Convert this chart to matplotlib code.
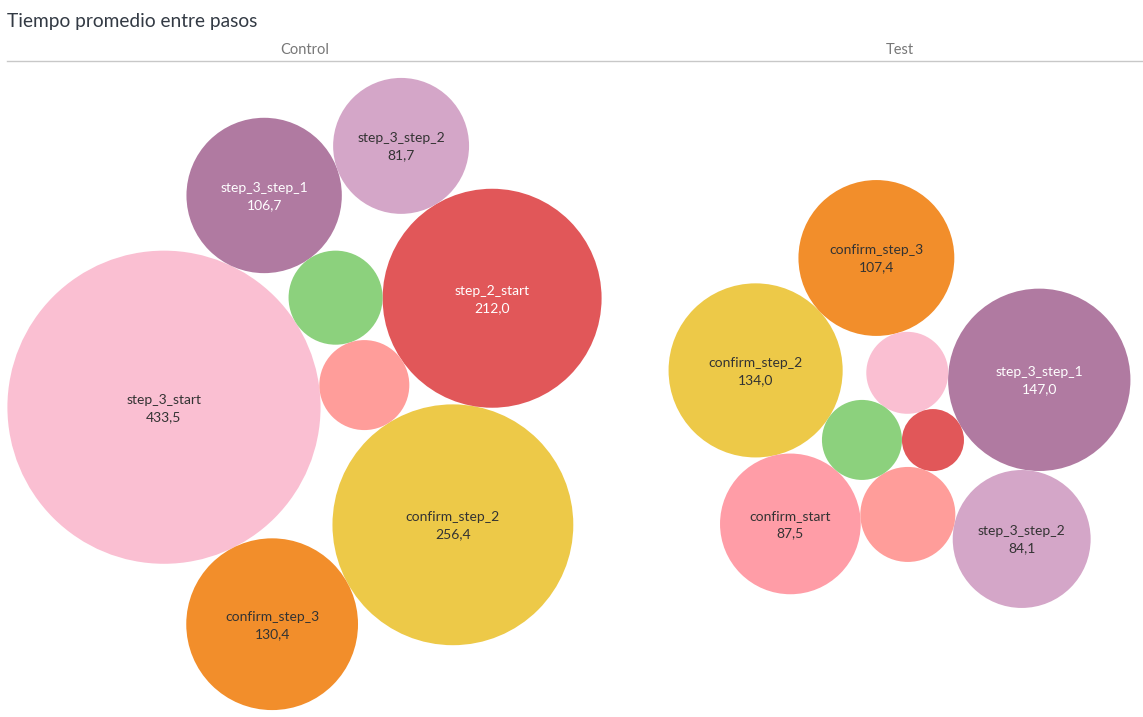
import numpy as np
import matplotlib.pyplot as plt
from matplotlib.patches import Circle

plt.rcParams['font.family'] = ['Lato', 'DejaVu Sans']

# data: average time between steps (seconds)
control_steps = ['step_3_start', 'confirm_step_2', 'step_2_start', 'confirm_step_3',
                 'step_3_step_1', 'step_3_step_2', 'step_1_start', 'step_2_step_1']
control_values = [433.5, 256.4, 212.0, 130.4, 106.7, 81.7, 39.1, 35.8]

test_steps = ['step_3_step_1', 'confirm_step_2', 'confirm_step_3', 'confirm_start',
              'step_3_step_2', 'step_2_step_1', 'step_3_start', 'step_1_start', 'step_2_start']
test_values = [147.0, 134.0, 107.4, 87.5, 84.1, 39.9, 29.7, 28.3, 17.0]

colors = {
    'step_3_start': '#FABFD2',
    'confirm_step_2': '#EDC948',
    'step_2_start': '#E15759',
    'confirm_step_3': '#F28E2B',
    'step_3_step_1': '#B07AA1',
    'step_3_step_2': '#D4A6C8',
    'step_1_start': '#8CD17D',
    'step_2_step_1': '#FF9D9A',
    'confirm_start': '#FF9DA7',
}
white_text = ['step_2_start', 'step_3_step_1']

# packing order: (circle, touches a, touches b, side) -- first two are seed + angle
control_layout = [
    ('step_2_step_1', None, None, None),
    ('step_1_start', 'step_2_step_1', -108.2, None),
    ('step_3_start', 'step_2_step_1', 'step_1_start', -1),
    ('step_2_start', 'step_1_start', 'step_2_step_1', -1),
    ('confirm_step_2', 'step_2_step_1', 'step_2_start', 1),
    ('confirm_step_3', 'step_3_start', 'confirm_step_2', 1),
    ('step_3_step_1', 'step_3_start', 'step_1_start', -1),
    ('step_3_step_2', 'step_3_step_1', 'step_2_start', -1),
]
test_layout = [
    ('step_2_start', None, None, None),
    ('step_3_start', 'step_2_start', -110.9, None),
    ('step_1_start', 'step_2_start', 'step_3_start', -1),
    ('step_2_step_1', 'step_1_start', 'step_2_start', 1),
    ('step_3_step_1', 'step_3_start', 'step_2_start', -1),
    ('confirm_start', 'step_1_start', 'step_2_step_1', 1),
    ('confirm_step_2', 'step_1_start', 'confirm_start', 1),
    ('confirm_step_3', 'step_3_start', 'confirm_step_2', 1),
    ('step_3_step_2', 'step_3_step_1', 'step_2_step_1', -1),
]

SCALE = 7.52  # pixels per sqrt(second), bubble area ~ value


def pack(steps, values, layout):
    radius = {s: SCALE * np.sqrt(v) for s, v in zip(steps, values)}
    pos = {}
    for name, a, b, side in layout:
        rc = radius[name]
        if a is None:
            pos[name] = np.array([0.0, 0.0])
        elif side is None:
            ang = np.radians(b)
            pos[name] = pos[a] + (radius[a] + rc) * np.array([np.cos(ang), np.sin(ang)])
        else:
            pa, pb = pos[a], pos[b]
            d = np.linalg.norm(pb - pa)
            da = radius[a] + rc
            db = radius[b] + rc
            u = (pb - pa) / d
            perp = np.array([-u[1], u[0]])
            x = (d * d + da * da - db * db) / (2 * d)
            h = np.sqrt(max(da * da - x * x, 0))
            pos[name] = pa + x * u + side * h * perp
    return pos, radius


def draw_panel(ax, steps, values, layout, cx, cy):
    pos, radius = pack(steps, values, layout)
    xs = [pos[s][0] - radius[s] for s in steps] + [pos[s][0] + radius[s] for s in steps]
    ys = [pos[s][1] - radius[s] for s in steps] + [pos[s][1] + radius[s] for s in steps]
    off = np.array([cx - (min(xs) + max(xs)) / 2, cy - (min(ys) + max(ys)) / 2])
    for s, v in zip(steps, values):
        p = pos[s] + off
        ax.add_patch(Circle(p, radius[s], facecolor=colors[s], edgecolor='none'))
        # Tableau hides labels that don't fit the small bubbles
        if v >= 50:
            tc = 'white' if s in white_text else '#333333'
            ax.text(p[0], p[1] + 1, s + '\n' + ('%.1f' % v).replace('.', ','),
                    ha='center', va='center', fontsize=10, color=tc, linespacing=1.5)


fig = plt.figure(figsize=(11.43, 7.17), dpi=100)
ax = fig.add_axes([0, 0, 1, 1])
ax.set_xlim(0, 1143)
ax.set_ylim(717, 0)
ax.axis('off')

draw_panel(ax, control_steps, control_values, control_layout, 304.5, 394)
draw_panel(ax, test_steps, test_values, test_layout, 899.5, 394)

ax.text(7, 21, 'Tiempo promedio entre pasos', fontsize=13.8, color='#333a44',
        ha='left', va='center')
ax.text(304.5, 50.5, 'Control', fontsize=10.5, color='#777777',
        ha='center', va='center')
ax.text(899.5, 50.5, 'Test', fontsize=10.5, color='#777777',
        ha='center', va='center')
ax.plot([7, 1143], [60.5, 60.5], color='#c8c8c8', lw=1)

fig.savefig('out.png', dpi=100)
